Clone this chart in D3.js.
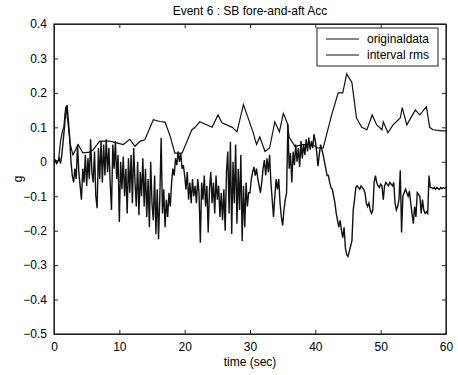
<!DOCTYPE html>
<html lang="en">
<head>
<meta charset="UTF-8">
<title>Event 6 : SB fore-and-aft Acc</title>
<script src="https://cdn.jsdelivr.net/npm/d3@7"></script>
<style>
  body { margin: 0; background: #fff; }
  text { font-family: "Liberation Sans", Arial, sans-serif; fill: #000; }
</style>
</head>
<body>
<script>
// sampled signal, one value every 0.2 s from t = 0 to 60
var dt = 0.2;
var originalData = [
  0.00, 0.005, -0.005, 0.0, 0.01, -0.005, 0.02, 0.06, 0.10, 0.15,
  0.165, 0.12, 0.07, 0.0, -0.04, -0.06, -0.02, -0.05, 0.05, -0.03,
  -0.07, -0.11, -0.02, -0.06, 0.02, -0.07, 0.01, -0.05, 0.065, -0.03,
  -0.06, 0.03, -0.10, -0.135, 0.04, -0.05, 0.06, -0.06, 0.05, -0.04,
  0.065, -0.03, 0.04, -0.06, -0.14, 0.05, -0.02, 0.06, -0.05, 0.02,
  -0.175, 0.0, -0.08, 0.015, -0.10, -0.02, -0.15, 0.01, -0.09, 0.02,
  -0.12, 0.04, -0.06, -0.13, 0.0, -0.155, -0.03, -0.10, 0.01, -0.13,
  -0.02, -0.16, -0.05, -0.19, 0.0, -0.12, -0.17, -0.04, -0.21, -0.08,
  -0.225, -0.10, 0.07, -0.15, -0.08, -0.19, -0.11, -0.16, -0.09, -0.13,
  -0.06, -0.02, -0.04, 0.01, -0.01, 0.03, 0.0, 0.025, -0.02, -0.01,
  -0.04, -0.08, -0.03, -0.11, -0.06, -0.12, -0.05, -0.10, -0.07, -0.12,
  -0.05, -0.09, -0.235, -0.06, -0.11, -0.04, -0.13, -0.07, -0.205, -0.08,
  -0.03, -0.12, -0.06, -0.15, -0.04, -0.11, -0.07, -0.16, -0.09, -0.17,
  -0.08, -0.20, -0.03, 0.03, -0.15, 0.058, -0.21, 0.0, -0.12, 0.05,
  -0.18, -0.02, -0.14, 0.02, -0.23, -0.07, -0.19, -0.06, -0.13, -0.09,
  -0.09, -0.05, -0.03, -0.015, -0.04, -0.02, -0.05, -0.07, -0.09, -0.06,
  -0.02, 0.005, -0.04, 0.01, -0.03, 0.02, -0.06, -0.11, -0.16, -0.10,
  -0.05, -0.08, -0.05, -0.12, -0.16, -0.185, -0.14, -0.11, -0.09, 0.11,
  -0.02, 0.025, -0.06, 0.03, -0.01, 0.05, 0.0, 0.04, -0.015, 0.06,
  0.01, 0.05, 0.02, 0.065, 0.03, 0.07, 0.035, 0.06, 0.04, 0.08,
  0.06, 0.03, -0.013, 0.02, 0.05, 0.035, 0.02, 0.0, -0.02, -0.04,
  -0.04, -0.06, -0.075, -0.08, -0.10, -0.12, -0.15, -0.17, -0.19, -0.17,
  -0.20, -0.22, -0.19, -0.25, -0.27, -0.275, -0.26, -0.245, -0.23, -0.14,
  -0.11, -0.075, -0.07, -0.075, -0.08, -0.07, -0.075, -0.08, -0.09, -0.12,
  -0.13, -0.12, -0.14, -0.15, -0.14, -0.06, -0.04, -0.06, -0.07, -0.075,
  -0.065, -0.07, -0.11, -0.07, -0.06, -0.065, -0.07, -0.06, -0.065, -0.07,
  -0.06, -0.12, -0.14, -0.13, -0.11, -0.025, -0.205, -0.10, -0.09, -0.08,
  -0.09, -0.10, -0.085, -0.12, -0.15, -0.18, -0.13, -0.16, -0.09, -0.095,
  -0.10, -0.15, -0.11, -0.14, -0.15, -0.145, -0.15, -0.04, -0.075, -0.075,
  -0.078, -0.075, -0.08, -0.075, -0.078, -0.08, -0.075, -0.078, -0.075, -0.077,
  -0.075
];

// interval rms, [time, value]
var rmsData = [
  [0, 0], [0.7, 0.005], [1.0, 0.06], [1.3, 0.09], [1.5, 0.1], [1.8, 0.16],
  [2.1, 0.12], [2.5, 0.05], [2.9, 0.02], [3.7, 0.05], [4.4, 0.026], [5.5, 0.028],
  [6.0, 0.035], [7.0, 0.06], [8.5, 0.06], [9.6, 0.055], [10.6, 0.05], [11.6, 0.065],
  [12.4, 0.045], [13.2, 0.06], [13.9, 0.064], [15.2, 0.122], [16.2, 0.117], [17.0, 0.115],
  [17.8, 0.073], [18.5, 0.025], [19.6, 0.025], [21.1, 0.093], [21.6, 0.1], [22.3, 0.116],
  [24.2, 0.1], [25.1, 0.136], [25.7, 0.113], [27.3, 0.1], [28.0, 0.087], [29.0, 0.166],
  [30.5, 0.084], [31.0, 0.05], [31.5, 0.072], [32.3, 0.03], [33.0, 0.04], [33.8, 0.116],
  [34.5, 0.087], [35.1, 0.14], [35.7, 0.113], [36.0, 0.072], [36.9, 0.044], [38.0, 0.05],
  [39.5, 0.05], [40.4, 0.04], [41.2, 0.04], [42.5, 0.136], [43.5, 0.2], [44.2, 0.2],
  [44.8, 0.255], [45.6, 0.23], [46.3, 0.127], [47.1, 0.1], [47.9, 0.093], [48.7, 0.136],
  [49.4, 0.107], [50.2, 0.093], [50.4, 0.116], [51.1, 0.084], [51.9, 0.107], [53.0, 0.127],
  [53.3, 0.157], [54.0, 0.107], [55.3, 0.15], [56.0, 0.136], [57.0, 0.16], [57.5, 0.1],
  [58.0, 0.093], [59.4, 0.09], [60.0, 0.09]
];

var xTicks = [0, 10, 20, 30, 40, 50, 60];
var yTicks = [-0.5, -0.4, -0.3, -0.2, -0.1, 0, 0.1, 0.2, 0.3, 0.4];
var seriesNames = ["originaldata", "interval rms"];

var width = 458, height = 375;
var margin = {top: 24, right: 12, bottom: 41, left: 54};
var w = width - margin.left - margin.right;
var h = height - margin.top - margin.bottom;

var svg = d3.select("body").append("svg")
    .attr("width", width)
    .attr("height", height);

var g = svg.append("g")
    .attr("transform", "translate(" + margin.left + "," + margin.top + ")");

var x = d3.scaleLinear().domain([0, 60]).range([0, w]);
var y = d3.scaleLinear().domain([-0.5, 0.4]).range([h, 0]);

// axes (matlab style: ticks inward on all four sides)
var fmtY = function(d) { return d === 0 ? "0" : d3.format(".1f")(d); };

g.append("g")
    .attr("class", "axis")
    .attr("transform", "translate(0," + h + ")")
    .call(d3.axisBottom(x).tickValues(xTicks).tickSizeInner(-4).tickSizeOuter(0).tickPadding(8));
g.append("g")
    .attr("class", "axis")
    .call(d3.axisTop(x).tickValues(xTicks).tickSizeInner(-4).tickSizeOuter(0).tickFormat(""));
g.append("g")
    .attr("class", "axis")
    .call(d3.axisLeft(y).tickValues(yTicks).tickSizeInner(-4).tickSizeOuter(0).tickPadding(7).tickFormat(fmtY));
g.append("g")
    .attr("class", "axis")
    .attr("transform", "translate(" + w + ",0)")
    .call(d3.axisRight(y).tickValues(yTicks).tickSizeInner(-4).tickSizeOuter(0).tickFormat(""));

g.selectAll(".axis path").attr("stroke", "#222");
g.selectAll(".axis line").attr("stroke", "#222");
g.selectAll(".axis text")
    .attr("font-size", 12)
    .attr("font-family", "'Liberation Sans', Arial, sans-serif")
    .attr("fill", "#000");

g.append("rect")
    .attr("width", w).attr("height", h)
    .attr("fill", "none").attr("stroke", "#222").attr("stroke-width", 1.2);

// lines
var lineOrig = d3.line()
    .x(function(d, i) { return x(i * dt); })
    .y(function(d) { return y(d); });
var lineRms = d3.line()
    .x(function(d) { return x(d[0]); })
    .y(function(d) { return y(d[1]); });

g.append("path")
    .datum(originalData)
    .attr("d", lineOrig)
    .attr("fill", "none")
    .attr("stroke", "#111")
    .attr("stroke-width", 1.4);

g.append("path")
    .datum(rmsData)
    .attr("d", lineRms)
    .attr("fill", "none")
    .attr("stroke", "#111")
    .attr("stroke-width", 1.2);

// legend
var lg = g.append("g").attr("transform", "translate(" + (x(60) - 129) + ",4)");
lg.append("rect")
    .attr("width", 121).attr("height", 38)
    .attr("fill", "#fff").attr("stroke", "#222");
lg.selectAll("line.leg")
    .data(seriesNames)
    .enter().append("line")
    .attr("class", "leg")
    .attr("x1", 9).attr("x2", 42)
    .attr("y1", function(d, i) { return 11 + i * 16; })
    .attr("y2", function(d, i) { return 11 + i * 16; })
    .attr("stroke", "#111");
lg.selectAll("text")
    .data(seriesNames)
    .enter().append("text")
    .attr("x", 50)
    .attr("y", function(d, i) { return 15 + i * 16; })
    .attr("font-size", 12)
    .text(function(d) { return d; });

// title and labels
svg.append("text")
    .attr("x", margin.left + w / 2)
    .attr("y", 15)
    .attr("text-anchor", "middle")
    .attr("font-size", 12)
    .text("Event 6 : SB fore-and-aft Acc");

svg.append("text")
    .attr("x", margin.left + w / 2)
    .attr("y", 366)
    .attr("text-anchor", "middle")
    .attr("font-size", 12)
    .text("time (sec)");

svg.append("text")
    .attr("transform", "translate(22," + (margin.top + h / 2) + ") rotate(-90)")
    .attr("text-anchor", "middle")
    .attr("font-size", 12)
    .text("g");
</script>
</body>
</html>
